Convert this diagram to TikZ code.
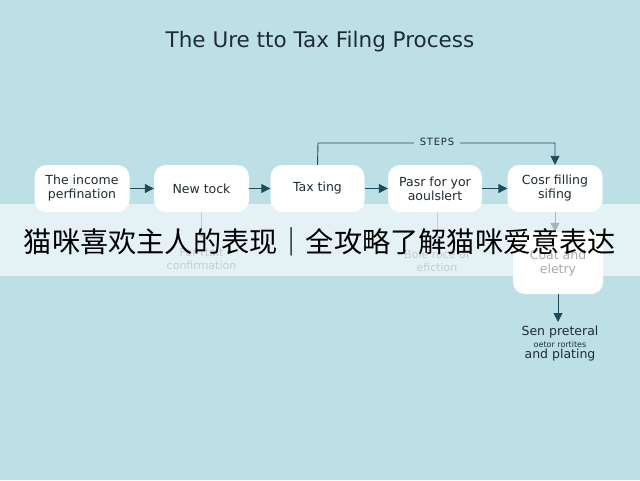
\documentclass[tikz,border=0pt]{standalone}
\usepackage{fontspec}
\setmainfont{DejaVu Sans}
\newfontfamily\cjk{Noto Sans CJK SC}
\usetikzlibrary{arrows.meta}
\definecolor{bgc}{HTML}{BDE0E6}
\definecolor{ink}{HTML}{1E2C33}
\definecolor{arrc}{HTML}{1F4A57}
\definecolor{faint}{HTML}{6E7F85}
\tikzset{
  box/.style={draw=none, fill=white, rounded corners=12pt, minimum width=95pt, minimum height=47pt,
    align=center, text=ink, font=\fontsize{12.5}{14}\selectfont, inner sep=1pt},
  arr/.style={draw=arrc, line width=1.1pt, -{Triangle[length=9pt,width=9pt]}},
  thin/.style={draw=faint, line width=0.8pt},
  sub/.style={align=center, text=faint, font=\fontsize{11}{13}\selectfont},
}
\begin{document}
\begin{tikzpicture}[x=1pt,y=-1pt]
\useasboundingbox (0,0) rectangle (640,480);
\fill[bgc] (0,0) rectangle (640,480);
\node[text=ink, font=\fontsize{21.5}{24}\selectfont] (title) at (320,42) {The Ure tto Tax Filng Process};

\node[box] (b1) at (82,188.5) {The income\\perfination};
\node[box] (b2) at (201.5,188.5) {New tock};
\node[box, minimum width=94pt] (b3) at (317.5,188.5) {Tax ting};
\node[box, minimum width=94pt] (b4) at (435,188.5) {Pasr for yor\\aoulslert};
\node[box] (b5) at (555,188.5) {Cosr filling\\sifing};
\node[box, minimum width=90pt, minimum height=62pt] (b6) at (558,263) {Coat and\\eletry};

\draw[arr] (b1) -- (b2);
\draw[arr] (b2) -- (b3);
\draw[arr] (b3) -- (b4);
\draw[arr] (b4) -- (b5);

\coordinate (sL) at (318,143);
\coordinate (sR) at (555,143);
\draw[arr, line width=0.9pt] (b3.north) -- (sL) -- (sR) -- (b5.north);
\node[fill=bgc, text=ink, font=\fontsize{10}{11}\selectfont\addfontfeature{LetterSpace=8}, inner xsep=6pt] (steps) at (437,142) {STEPS};

\coordinate (d2) at (201.5,238);
\draw[thin, -{Triangle[length=4pt,width=5pt]}] (b2.south) -- (d2);
\node[sub] (t2) at (201.5,259) {For rtalt\\confirmation};

\coordinate (d4) at (437,246);
\draw[thin] (b4.south -| d4) -- (d4);
\node[sub] (t4) at (437,261) {Bole roce of\\efiction};

\draw[arr, line width=1pt] (b5.south) -- (b6.north -| b5.south);

\coordinate (d6) at (558,322);
\draw[arr, line width=1pt] (b6.south) -- (d6);
\node[align=center, text=ink, font=\fontsize{12.5}{11.5}\selectfont] (t6) at (560,344)
  {Sen preteral\\{\fontsize{8}{8}\selectfont oetor rortites}\\and plating};

\fill[white, opacity=0.6] (0,204) rectangle (640,276);
\node[text=black, font=\cjk\fontsize{28.2}{30}\selectfont] (band) at (320,242) {猫咪喜欢主人的表现｜全攻略了解猫咪爱意表达};
\end{tikzpicture}
\end{document}
